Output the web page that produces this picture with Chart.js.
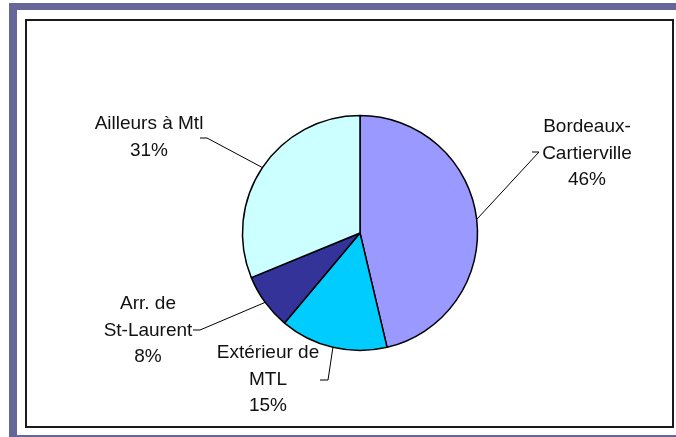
<!DOCTYPE html>
<html>
<head>
<meta charset="utf-8">
<script src="https://cdn.jsdelivr.net/npm/chart.js@4.4.1/dist/chart.umd.min.js"></script>
<style>
  html, body { margin: 0; padding: 0; background: #fff; }
  .stage { position: relative; width: 676px; height: 437px; overflow: hidden; }
  .band { position: absolute; background: #666699; }
  .box { position: absolute; left: 25px; top: 19px; width: 645px; height: 405px; border: 2px solid #1a1a1a; }
  canvas { position: absolute; left: 0; top: 0; }
</style>
</head>
<body>
<div class="stage">
  <div class="band" style="left:9px; top:3px; width:667px; height:7px"></div>
  <div class="band" style="left:9px; top:3px; width:8px; height:434px"></div>
  <div class="band" style="left:9px; top:435px; width:667px; height:2px"></div>
  <div class="box"></div>
  <canvas id="pie" width="676" height="437"></canvas>
</div>
<script>
// data (clockwise from 12 o'clock)
const categories = ['Bordeaux-\nCartierville', 'Extérieur de\nMTL', 'Arr. de\nSt-Laurent', 'Ailleurs à Mtl']
const shares = [46.3, 14.8, 7.7, 31.2]
const sliceColors = ['#9999FF', '#00CCFF', '#333399', '#CCFFFF']

// label placement relative to the pie centre (Excel puts these by hand)
const labelSpots = [
  { text: [227, -101], elbow: [179, -81], end: [172, -81] },
  { text: [-92, 125], elbow: [-32, 147], end: [-40, 147] },
  { text: [-212, 76], elbow: [-160, 97], end: [-167, 97] },
  { text: [-211, -104], elbow: [-153, -95], end: [-160, -95] }
]
const lineHeight = 26.5

const total = shares.reduce((a, b) => a + b, 0)

const labelPlugin = {
  id: 'sliceLabels',
  afterDatasetsDraw(chart) {
    const ctx = chart.ctx
    const meta = chart.getDatasetMeta(0)
    ctx.save()
    meta.data.forEach((arc, i) => {
      const { x, y, startAngle, endAngle, outerRadius } =
        arc.getProps(['x', 'y', 'startAngle', 'endAngle', 'outerRadius'], true)
      const mid = (startAngle + endAngle) / 2
      const spot = labelSpots[i]

      // leader line
      ctx.strokeStyle = '#000'
      ctx.lineWidth = 1
      ctx.beginPath()
      ctx.moveTo(x + Math.cos(mid) * outerRadius, y + Math.sin(mid) * outerRadius)
      ctx.lineTo(x + spot.elbow[0], y + spot.elbow[1])
      ctx.lineTo(x + spot.end[0], y + spot.end[1])
      ctx.stroke()

      // text
      const lines = categories[i].split('\n')
      lines.push(Math.round(shares[i] / total * 100) + '%')
      ctx.fillStyle = '#111'
      ctx.font = '19px "Liberation Sans", Arial, sans-serif'
      ctx.textAlign = 'center'
      ctx.textBaseline = 'alphabetic'
      lines.forEach((line, k) => {
        ctx.fillText(line, x + spot.text[0], y + spot.text[1] + k * lineHeight)
      })
    })
    ctx.restore()
  }
}

new Chart(document.getElementById('pie'), {
  type: 'pie',
  data: {
    labels: categories,
    datasets: [{
      data: shares,
      backgroundColor: sliceColors,
      borderColor: '#000',
      borderWidth: 1.5
    }]
  },
  options: {
    responsive: false,
    animation: false,
    layout: {
      padding: { left: 241.75, right: 197.75, top: 114.75, bottom: 85.75 }
    },
    plugins: {
      legend: { display: false },
      tooltip: { enabled: false }
    }
  },
  plugins: [labelPlugin]
})
</script>
</body>
</html>
